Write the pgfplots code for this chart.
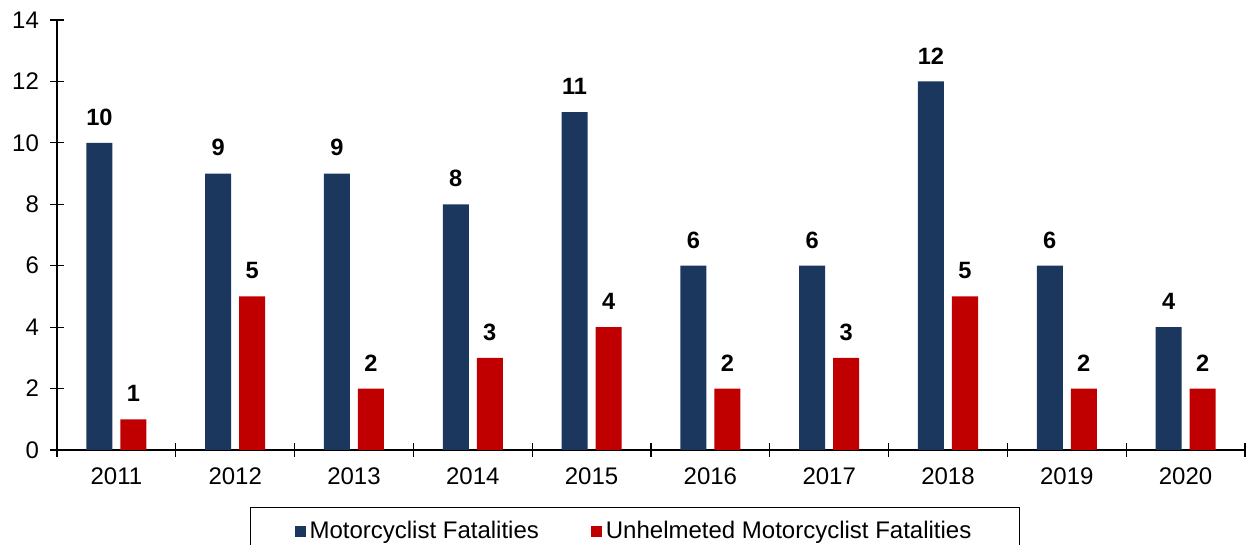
\documentclass[border=0pt]{standalone}
\usepackage{pgfplots}
\pgfplotsset{compat=1.18}
\usepackage{fontspec}
\setmainfont{Liberation Sans}
\definecolor{navybar}{HTML}{1B375E}
\definecolor{redbar}{HTML}{C00000}

\begin{document}
\begin{tikzpicture}
\useasboundingbox (-28.5pt,-47.5pt) rectangle (595.5pt,225pt);
\begin{axis}[
    at={(0,0)}, anchor=south west,
    scale only axis,
    width=594pt, height=215pt,
    ybar=4pt, bar width=13pt,
    xmin=-0.5, xmax=9.5,
    ymin=0, ymax=14,
    axis lines*=left,
    axis line style={black, line width=0.6pt},
    xtick={0,...,9},
    xticklabels={2011,2012,2013,2014,2015,2016,2017,2018,2019,2020},
    major x tick style={draw=none},
    minor xtick={-0.5,0.5,...,9.5},
    ytick={0,2,...,14},
    tick align=center,
    major tick length=7pt,
    minor tick length=7pt,
    tick style={black, line width=0.6pt},
    /pgf/number format/assume math mode=true,
    tick label style={font=\fontsize{12}{14}\selectfont},
    yticklabel style={xshift=-2pt},
    xticklabel style={yshift=-2pt},
    nodes near coords,
    every node near coord/.append style={font=\fontsize{11.8}{13}\selectfont\bfseries, anchor=south, inner sep=0pt, yshift=8.5pt, black},
    legend columns=2,
    legend style={at={(0.4865,-0.1326)}, anchor=north, draw=black, line width=0.5pt,
        font=\fontsize{12}{14}\selectfont, inner xsep=22pt, inner ysep=5pt,
        /tikz/every even column/.append style={column sep=24pt}},
    legend image code/.code={\fill[#1] (0pt,-2.75pt) rectangle (5.5pt,2.75pt);},
]
\addplot[fill=navybar, draw=none] coordinates {
    (0,10) (1,9) (2,9) (3,8) (4,11) (5,6) (6,6) (7,12) (8,6) (9,4)
};
\addplot[fill=redbar, draw=none] coordinates {
    (0,1) (1,5) (2,2) (3,3) (4,4) (5,2) (6,3) (7,5) (8,2) (9,2)
};
\legend{Motorcyclist Fatalities, Unhelmeted Motorcyclist Fatalities}
\end{axis}
\end{tikzpicture}
\end{document}
